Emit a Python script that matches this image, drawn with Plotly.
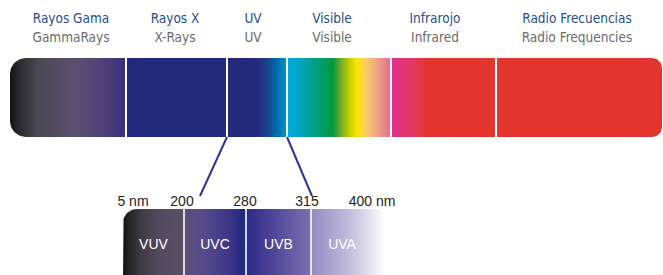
import numpy as np
import plotly.graph_objects as go

# ---------------- data ----------------
bands_es = ["Rayos Gama", "Rayos X", "UV", "Visible", "Infrarojo", "Radio Frecuencias"]
bands_en = ["GammaRays", "X-Rays", "UV", "Visible", "Infrared", "Radio Frequencies"]
band_edges = [10, 126, 227, 287, 391, 496, 662]          # schematic scale units
band_label_x = [71, 175, 253, 332, 435, 577]

uv_names = ["VUV", "UVC", "UVB", "UVA"]
uv_tick_labels = ["5 nm", "200", "280", "315", "400 nm"]
uv_edges = [123, 184, 246, 311, 385]                      # schematic scale units
uv_tick_x = [133, 182, 245, 307, 372]

# ---------------- styles ----------------
band_stops = [
    [(10, "#101010"), (18, "#28282c"), (38, "#4a4852"), (75, "#5c5070"), (105, "#4f3f78"), (126, "#38307e")],
    [(126, "#232a7e"), (227, "#232a7e")],
    [(227, "#232a7e"), (258, "#232a7e"), (268, "#1a4590"), (276, "#0067a8"), (287, "#0098c8")],
    [(287, "#00aad8"), (296, "#00a8cc"), (312, "#00a090"), (333, "#009a40"), (340, "#6aa82a"),
     (350, "#c8d200"), (357, "#ffe400"), (365, "#fad060"), (374, "#f2b080"), (384, "#e8888c"), (391, "#e4688e")],
    [(391, "#e0328e"), (402, "#e03478"), (415, "#e3385a"), (428, "#e3352d"), (496, "#e3352d")],
    [(496, "#e3352d"), (662, "#e3352d")],
]
uv_stops = [
    [(123, "#0e0e0e"), (128, "#222224"), (140, "#3e3a44"), (160, "#524a5e"), (184, "#5a5068")],
    [(184, "#5c4f7a"), (205, "#55498a"), (228, "#3e3788"), (240, "#272a80"), (246, "#232a7c")],
    [(246, "#2a2a86"), (270, "#4a4296"), (295, "#6a5ea6"), (311, "#7a70b0")],
    [(311, "#948ac2"), (330, "#aaa2ce"), (350, "#c4bedd"), (370, "#e4e2ef"), (385, "#ffffff")],
]

TOP_Y0, TOP_Y1 = 58, 137
LOW_Y0, LOW_Y1 = 209, 285

COND = "Liberation Sans Narrow, DejaVu Sans Condensed, Arial Narrow, sans-serif"
SANS = "Liberation Sans, Arial, Helvetica, sans-serif"


def rounded_rect(x0, x1, y0, y1, tl=0, tr=0, br=0, bl=0, n=12):
    xs, ys = [], []

    def arc(cx, cy, r, a0, a1):
        for t in np.linspace(np.radians(a0), np.radians(a1), n):
            xs.append(float(cx + r * np.cos(t)))
            ys.append(float(cy + r * np.sin(t)))

    if tr:
        arc(x1 - tr, y0 + tr, tr, -90, 0)
    else:
        xs.append(x1); ys.append(y0)
    if br:
        arc(x1 - br, y1 - br, br, 0, 90)
    else:
        xs.append(x1); ys.append(y1)
    if bl:
        arc(x0 + bl, y1 - bl, bl, 90, 180)
    else:
        xs.append(x0); ys.append(y1)
    if tl:
        arc(x0 + tl, y0 + tl, tl, 180, 270)
    else:
        xs.append(x0); ys.append(y0)
    xs.append(xs[0]); ys.append(ys[0])
    return xs, ys


def scale_from(stops, a, b):
    sc = [[min(1.0, max(0.0, (p - a) / (b - a))), c] for p, c in stops]
    sc[0][0] = 0.0
    sc[-1][0] = 1.0
    return sc


fig = go.Figure()


def add_segment(x0, x1, y0, y1, stops, pad_l=0.0, pad_r=0.0, **radii):
    xs, ys = rounded_rect(x0 - pad_l, x1 + pad_r, y0, y1, **radii)
    fig.add_trace(go.Scatter(
        x=xs, y=ys, mode="lines", fill="toself",
        line=dict(width=0, color="rgba(0,0,0,0)"),
        fillgradient=dict(type="horizontal", start=x0, stop=x1,
                          colorscale=scale_from(stops, x0, x1)),
        hoverinfo="skip", showlegend=False))


# top spectrum bar
nb = len(bands_es)
for i in range(nb):
    radii = {}
    if i == 0:
        radii = dict(tl=16, bl=16)
    if i == nb - 1:
        radii = dict(tr=10, br=10)
    add_segment(band_edges[i], band_edges[i + 1], TOP_Y0, TOP_Y1, band_stops[i],
                pad_l=0 if i == 0 else 0.5, pad_r=0 if i == nb - 1 else 0.5, **radii)

# UV detail bar
nu = len(uv_names)
for i in range(nu):
    radii = {}
    if i == 0:
        radii = dict(tl=14)
    if i == nu - 1:
        radii = dict(tr=10)
    add_segment(uv_edges[i], uv_edges[i + 1], LOW_Y0, LOW_Y1, uv_stops[i],
                pad_l=0 if i == 0 else 0.5, pad_r=0 if i == nu - 1 else 0.5, **radii)

# white dividers
for e in band_edges[1:-1]:
    fig.add_trace(go.Scatter(x=[e, e], y=[TOP_Y0, TOP_Y1], mode="lines",
                             line=dict(color="white", width=2),
                             hoverinfo="skip", showlegend=False))
for e in uv_edges[1:-1]:
    fig.add_trace(go.Scatter(x=[e, e], y=[LOW_Y0, LOW_Y1], mode="lines",
                             line=dict(color="white", width=1.6),
                             hoverinfo="skip", showlegend=False))

# connector lines from the UV band to the detail scale
uv_i = bands_es.index("UV")
fig.add_trace(go.Scatter(x=[band_edges[uv_i], uv_tick_x[1] + 18], y=[TOP_Y1, 196],
                         mode="lines", line=dict(color="#2b3591", width=2),
                         hoverinfo="skip", showlegend=False))
fig.add_trace(go.Scatter(x=[band_edges[uv_i + 1], uv_tick_x[3] + 5], y=[TOP_Y1, 196],
                         mode="lines", line=dict(color="#2b3591", width=2),
                         hoverinfo="skip", showlegend=False))

# top labels
fig.add_trace(go.Scatter(x=band_label_x, y=[20] * nb, mode="text", text=bands_es,
                         textfont=dict(family=COND, size=13.5, color="#1f4e8f"),
                         hoverinfo="skip", showlegend=False))
fig.add_trace(go.Scatter(x=band_label_x, y=[39] * nb, mode="text", text=bands_en,
                         textfont=dict(family=COND, size=13.5, color="#6b6b6b"),
                         hoverinfo="skip", showlegend=False))

# UV scale labels
fig.add_trace(go.Scatter(x=uv_tick_x, y=[202] * len(uv_tick_x), mode="text", text=uv_tick_labels,
                         textfont=dict(family=SANS, size=14, color="#222222"),
                         hoverinfo="skip", showlegend=False))

# UV band names
uv_centers = [(uv_edges[i] + uv_edges[i + 1]) / 2 for i in range(nu)]
uv_centers[-1] = uv_edges[-2] + 31
fig.add_trace(go.Scatter(x=uv_centers, y=[245] * nu, mode="text", text=uv_names,
                         textfont=dict(family=SANS, size=14, color="white"),
                         hoverinfo="skip", showlegend=False))

fig.update_layout(
    width=663, height=275,
    margin=dict(l=0, r=0, t=0, b=0),
    paper_bgcolor="white", plot_bgcolor="white",
    xaxis=dict(range=[0, 663], visible=False, fixedrange=True),
    yaxis=dict(range=[275, 0], visible=False, fixedrange=True),
    showlegend=False,
)

fig.write_html("out.html", config={"displayModeBar": False},
               post_script="document.body.style.margin='0px';document.body.style.overflow='hidden';")
